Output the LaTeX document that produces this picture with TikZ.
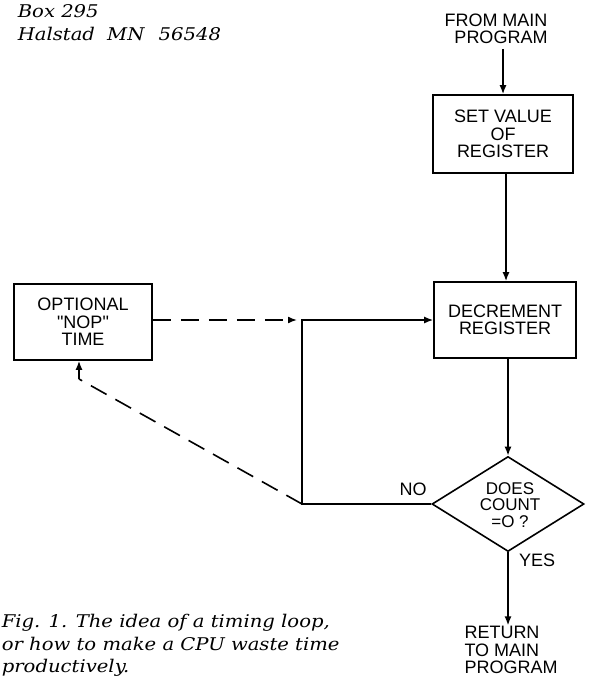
\documentclass[tikz,border=0pt]{standalone}
\usepackage{fontspec}
\setmainfont{Liberation Sans}[Ligatures=TeXOff]
\newfontfamily\capfont{DejaVu Serif}[FakeStretch=1.12]
\usetikzlibrary{arrows.meta,shapes.geometric}
\begin{document}
\begin{tikzpicture}[x=1pt,y=-1pt,line width=1.6pt,
  flow/.style={font=\fontsize{18}{17.5}\selectfont},
  box/.style={flow,draw,inner sep=0pt,align=center},
  lbl/.style={flow,align=center,inner sep=0pt},
  arr/.style={-{Latex[length=9pt,width=7pt]}},
  dsh/.style={dash pattern=on 18pt off 10pt},
  captext/.style={font=\capfont\itshape\fontsize{17.5}{23}\selectfont,anchor=base west,inner sep=0pt}]
\useasboundingbox (0,0) rectangle (592,679);
% header text
\node[captext] (h1) at (17,18) {Box 295};
\node[captext] (h2) at (17,41) {Halstad\hspace{6pt} MN\hspace{8pt} 56548};
% flowchart
\node[lbl,align=right] (from) at (496,29) {FROM MAIN\\PROGRAM};
\node[box,minimum width=140pt,minimum height=78pt] (set) at (503,134) {SET VALUE\\OF\\REGISTER};
\node[box,minimum width=142pt,minimum height=76pt] (dec) at (505,320) {DECREMENT\\REGISTER};
\node[draw,diamond,inner sep=0pt,minimum width=152pt,minimum height=95pt] (dia) at (508,504) {};
\node[lbl,font=\fontsize{17}{16.5}\selectfont] (diat) at (510,505) {DOES\\COUNT\\=O ?};
\node[box,minimum width=138pt,minimum height=76pt] (opt) at (83,322) {OPTIONAL\\"NOP"\\TIME};
\node[lbl] (no) at (413,489) {NO};
\node[lbl] (yes) at (537,560) {YES};
\node[lbl,align=left] (ret) at (511,650) {RETURN\\TO MAIN\\PROGRAM};
% connectors
\draw[arr] (set.north |- from.south) ++(0,4) -- (set.north);
\draw[arr] (set.south -| 506,0) -- (dec.north -| 506,0);
\draw[arr] (dec.south -| dia.north) -- (dia.north);
\coordinate (j1) at (dia.west -| 302,0);
\coordinate (j2) at (dec.west -| 302,0);
\draw[arr] (dia.west) -- (j1) -- (j2) -- (dec.west);
\draw[arr] (dia.south) -- (dia.south |- ret.north);
\coordinate (dend) at (dec.west -| 297,0);
\draw[arr,dsh] (opt.east |- dend) -- (dend);
\coordinate (bend) at (79,379);
\draw[dsh] (j1) -- (bend);
\draw[arr] (bend) -- (bend |- opt.south);
% caption
\node[captext] (c1) at (1,627) {Fig. 1. The idea of a timing loop,};
\node[captext] (c2) at (1,650) {or how to make a CPU waste time};
\node[captext] (c3) at (1,672) {productively.};
\end{tikzpicture}
\end{document}
